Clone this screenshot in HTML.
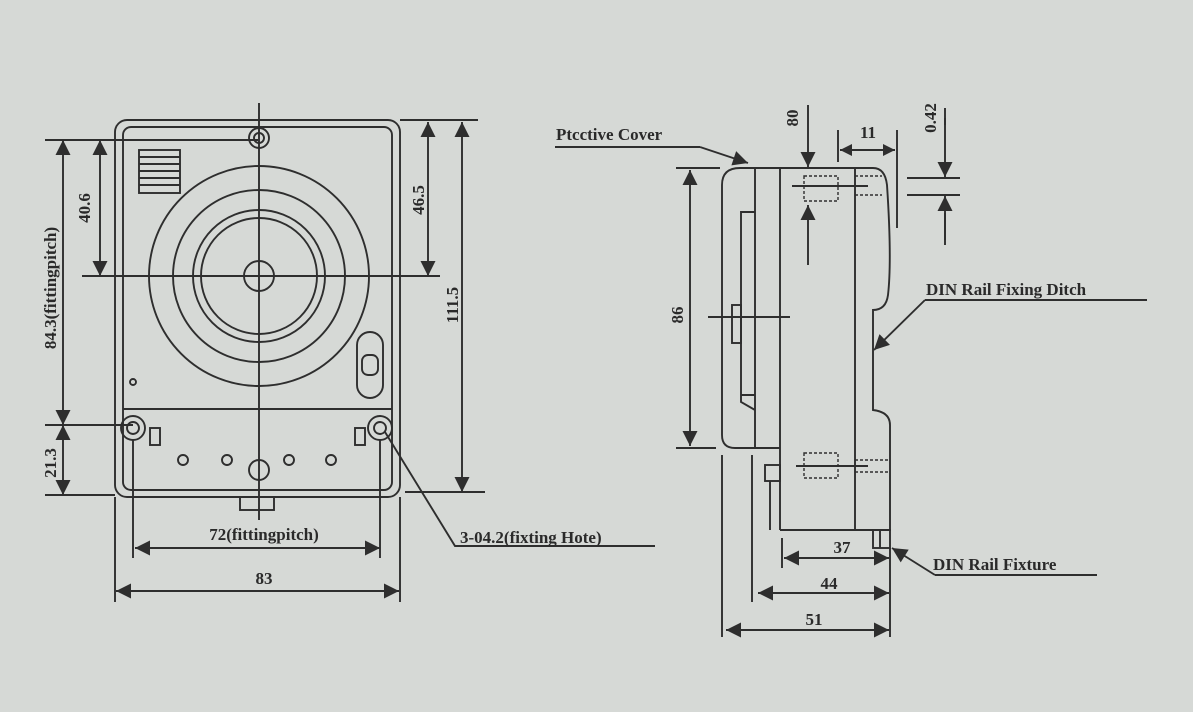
<!DOCTYPE html>
<html><head><meta charset="utf-8"><style>
html,body{margin:0;padding:0;background:#d6d9d6}
svg{display:block}
text{font-family:"Liberation Serif",serif;fill:#2a2a2a;font-weight:bold}
</style></head><body>
<svg width="1193" height="712" viewBox="0 0 1193 712" xmlns="http://www.w3.org/2000/svg">
<defs>
<marker id="a" viewBox="0 0 10 10" refX="10" refY="5" markerWidth="18" markerHeight="12" orient="auto-start-reverse" markerUnits="userSpaceOnUse"><path d="M0,0L10,5L0,10z" fill="#2e2e2e"/></marker>
<marker id="b" viewBox="0 0 10 10" refX="10" refY="5" markerWidth="34" markerHeight="15" orient="auto-start-reverse" markerUnits="userSpaceOnUse"><path d="M0,0L10,5L0,10z" fill="#2e2e2e"/></marker>
</defs>
<rect width="1193" height="712" fill="#d6d9d6"/>
<g stroke="#2e2e2e" stroke-width="1.9" fill="none">
<!-- LEFT VIEW -->
<rect x="115" y="120" width="285" height="377" rx="12"/>
<rect x="123" y="127" width="269" height="363" rx="8"/>
<circle cx="259" cy="138" r="10"/><circle cx="259" cy="138" r="5"/>
<line x1="259" y1="103" x2="259" y2="520"/>
<line x1="82" y1="276" x2="440" y2="276"/>
<circle cx="259" cy="276" r="110"/>
<circle cx="259" cy="276" r="86"/>
<circle cx="259" cy="276" r="66"/>
<circle cx="259" cy="276" r="58"/>
<circle cx="259" cy="276" r="15"/>
<rect x="139" y="150" width="41" height="43"/>
<path d="M139 157h41M139 164h41M139 171h41M139 178h41M139 185h41"/>
<circle cx="133" cy="382" r="3"/>
<rect x="357" y="332" width="26" height="66" rx="13"/>
<rect x="362" y="355" width="16" height="20" rx="6"/>
<line x1="123" y1="409" x2="392" y2="409"/>
<circle cx="133" cy="428" r="12"/><circle cx="133" cy="428" r="6"/>
<circle cx="380" cy="428" r="12"/><circle cx="380" cy="428" r="6"/>
<rect x="150" y="428" width="10" height="17"/>
<rect x="355" y="428" width="10" height="17"/>
<circle cx="183" cy="460" r="5"/><circle cx="227" cy="460" r="5"/>
<circle cx="289" cy="460" r="5"/><circle cx="331" cy="460" r="5"/>
<circle cx="259" cy="470" r="10"/>
<rect x="240" y="497" width="34" height="13"/>
<!-- left dims -->
<path d="M45 140H258M45 425H133M45 495H115"/>
<line x1="63" y1="140" x2="63" y2="425" marker-start="url(#b)" marker-end="url(#b)"/>
<line x1="63" y1="425" x2="63" y2="495" marker-start="url(#b)" marker-end="url(#b)"/>
<line x1="100" y1="140" x2="100" y2="276" marker-start="url(#b)" marker-end="url(#b)"/>
<path d="M400 120H478M405 492H485"/>
<line x1="428" y1="122" x2="428" y2="276" marker-start="url(#b)" marker-end="url(#b)"/>
<line x1="462" y1="122" x2="462" y2="492" marker-start="url(#b)" marker-end="url(#b)"/>
<path d="M133 440V558M380 440V558M115 497V602M400 497V602"/>
<line x1="135" y1="548" x2="380" y2="548" marker-start="url(#b)" marker-end="url(#b)"/>
<line x1="116" y1="591" x2="399" y2="591" marker-start="url(#b)" marker-end="url(#b)"/>
<path d="M385 432L455 546H655"/>
<!-- RIGHT VIEW -->
<path d="M780 448H735Q722 448 722 435V185Q722 168 740 168H873Q885 168 887 185Q892 260 888 295Q886 310 873 310V410Q890 412 890 425V530H780"/>
<line x1="780" y1="168" x2="780" y2="530"/>
<line x1="755" y1="168" x2="755" y2="448"/>
<line x1="855" y1="168" x2="855" y2="530"/>
<path d="M755 212H741V402L755 410M741 395L755 395"/>
<rect x="732" y="305" width="9" height="38"/>
<line x1="708" y1="317" x2="790" y2="317"/>
<rect x="765" y="465" width="15" height="16"/>
<path d="M770 481V530"/>
<rect x="873" y="530" width="17" height="18"/><path d="M880 530V548"/>
<g stroke-dasharray="3,2" stroke-width="1.4">
<rect x="804" y="176" width="34" height="25"/>
<path d="M855 176H882M855 195H882"/>
<rect x="804" y="453" width="34" height="25"/>
<path d="M855 460H888M855 472H888"/>
</g>
<path d="M792 186H868M796 466H868"/>
<!-- right dims -->
<path d="M676 168H720M676 448H716"/>
<line x1="690" y1="170" x2="690" y2="446" marker-start="url(#b)" marker-end="url(#b)"/>
<line x1="808" y1="105" x2="808" y2="167" marker-end="url(#b)"/>
<line x1="808" y1="265" x2="808" y2="205" marker-end="url(#b)"/>
<path d="M838 130V162M897 130V228"/>
<line x1="840" y1="150" x2="895" y2="150" marker-start="url(#a)" marker-end="url(#a)"/>
<path d="M907 178H960M907 195H960M945 108V125M945 213V245"/>
<line x1="945" y1="118" x2="945" y2="177" marker-end="url(#b)"/>
<line x1="945" y1="240" x2="945" y2="196" marker-end="url(#b)"/>
<path d="M555 147H700"/>
<line x1="700" y1="147" x2="748" y2="163" marker-end="url(#b)"/>
<path d="M1147 300H925"/>
<line x1="925" y1="300" x2="874" y2="350" marker-end="url(#b)"/>
<path d="M1097 575H935"/>
<line x1="935" y1="575" x2="892" y2="548" marker-end="url(#b)"/>
<path d="M782 538V568M752 455V602M722 455V637M890 548V637"/>
<line x1="784" y1="558" x2="889" y2="558" marker-start="url(#b)" marker-end="url(#b)"/>
<line x1="758" y1="593" x2="889" y2="593" marker-start="url(#b)" marker-end="url(#b)"/>
<line x1="726" y1="630" x2="889" y2="630" marker-start="url(#b)" marker-end="url(#b)"/>
</g>
<g font-size="17">
<text x="90" y="208" transform="rotate(-90 90 208)" text-anchor="middle">40.6</text>
<text x="56" y="288" transform="rotate(-90 56 288)" text-anchor="middle">84.3(fittingpitch)</text>
<text x="56" y="463" transform="rotate(-90 56 463)" text-anchor="middle">21.3</text>
<text x="424" y="200" transform="rotate(-90 424 200)" text-anchor="middle">46.5</text>
<text x="458" y="305" transform="rotate(-90 458 305)" text-anchor="middle">111.5</text>
<text x="264" y="540" text-anchor="middle">72(fittingpitch)</text>
<text x="264" y="584" text-anchor="middle">83</text>
<text x="460" y="543">3-04.2(fixting Hote)</text>
<text x="556" y="140">Ptcctive Cover</text>
<text x="683" y="315" transform="rotate(-90 683 315)" text-anchor="middle">86</text>
<text x="798" y="118" transform="rotate(-90 798 118)" text-anchor="middle">80</text>
<text x="868" y="138" text-anchor="middle">11</text>
<text x="936" y="118" transform="rotate(-90 936 118)" text-anchor="middle">0.42</text>
<text x="926" y="295">DIN Rail Fixing Ditch</text>
<text x="842" y="553" text-anchor="middle">37</text>
<text x="829" y="589" text-anchor="middle">44</text>
<text x="814" y="625" text-anchor="middle">51</text>
<text x="933" y="570">DIN Rail Fixture</text>
</g>
</svg>
</body></html>
